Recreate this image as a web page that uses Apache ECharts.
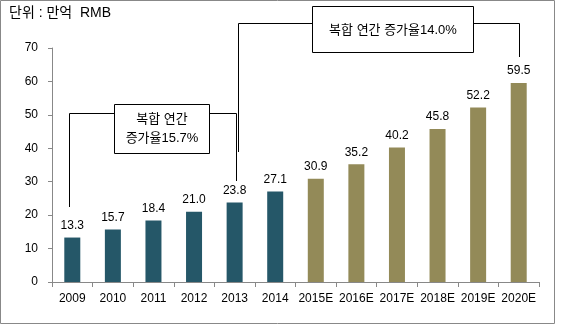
<!DOCTYPE html>
<html><head><meta charset="utf-8">
<script src="https://cdn.jsdelivr.net/npm/echarts@6/dist/echarts.min.js"></script>
<style>html,body{margin:0;padding:0;background:#fff}#c{width:562px;height:332px}</style>
</head><body><div id="c"></div>
<script>
const categories = ['2009','2010','2011','2012','2013','2014','2015E','2016E','2017E','2018E','2019E','2020E'];
const actualValues = [13.3,15.7,18.4,21.0,23.8,27.1,null,null,null,null,null,null];
const forecastValues = [null,null,null,null,null,null,30.9,35.2,40.2,45.8,52.2,59.5];
const yTicks = {min:0,max:70,interval:10};
const unitText = '단위 : 만억  RMB';
const cagr1 = '복합 연간\n증가율15.7%';
const cagr2 = '복합 연간 증가율14.0%';

const FONT = '"Liberation Sans","Noto Sans CJK KR",sans-serif';
const chart = echarts.init(document.getElementById('c'));
const lbl = {show:true,position:'top',distance:6,color:'#000',fontSize:12,fontFamily:FONT,formatter:p=>p.value==null?'':p.value.toFixed(1)};
chart.setOption({
  animation:false,
  grid:{left:52,right:23,top:48,bottom:50},
  xAxis:{type:'category',data:categories,
    axisLine:{lineStyle:{color:'#888'}},
    axisTick:{show:true,length:5,lineStyle:{color:'#888'}},
    axisLabel:{color:'#000',fontSize:12,fontFamily:FONT,margin:11,interval:0}},
  yAxis:{type:'value',min:yTicks.min,max:yTicks.max,interval:yTicks.interval,
    axisLine:{show:true,lineStyle:{color:'#888'}},
    axisTick:{show:true,length:4,lineStyle:{color:'#888'}},
    splitLine:{show:false},
    axisLabel:{color:'#000',fontSize:12,fontFamily:FONT,margin:14}},
  series:[
    {type:'bar',data:actualValues,barWidth:16,barGap:'-100%',itemStyle:{color:'#255768'},label:lbl},
    {type:'bar',data:forecastValues,barWidth:16,itemStyle:{color:'#938A58'},label:lbl}
  ]
});
const px = (i)=>chart.convertToPixel({xAxisIndex:0},i);
const x2009=px(0), x2013=px(4), x2020=px(11);
const ls={stroke:'#000',lineWidth:1};
const seg=(x1,y1,x2,y2)=>({type:'line',shape:{x1,y1,x2,y2},style:ls,z:10});
chart.setOption({graphic:[
  {type:'rect',shape:{x:0.5,y:0.5,width:554,height:323},style:{fill:null,stroke:'#888',lineWidth:1}},
  {type:'text',left:9,top:6,style:{text:unitText,fontSize:14,fontFamily:FONT,fill:'#000'}},
  // bracket 1
  seg(Math.round(x2009)-2.5,113.5,Math.round(x2013)+1.5,113.5),
  seg(Math.round(x2009)-2.5,113.5,Math.round(x2009)-2.5,207),
  seg(Math.round(x2013)+1.5,113.5,Math.round(x2013)+1.5,181),
  {type:'rect',shape:{x:114.5,y:104.5,width:95,height:49},style:{fill:'#fff',stroke:'#000',lineWidth:1},z:11},
  {type:'text',x:162,y:129,style:{text:cagr1,fontSize:13,fontFamily:FONT,fill:'#000',align:'center',verticalAlign:'middle',lineHeight:19},z:12},
  // bracket 2
  seg(Math.round(x2013)+3.5,23.5,Math.round(x2020)+0.5,23.5),
  seg(Math.round(x2013)+3.5,23.5,Math.round(x2013)+3.5,152),
  seg(Math.round(x2020)+0.5,23.5,Math.round(x2020)+0.5,57),
  {type:'rect',shape:{x:312.5,y:6.5,width:161,height:46},style:{fill:'#fff',stroke:'#000',lineWidth:1},z:11},
  {type:'text',x:393,y:30,style:{text:cagr2,fontSize:13,fontFamily:FONT,fill:'#000',align:'center',verticalAlign:'middle'},z:12}
]});
</script></body></html>
